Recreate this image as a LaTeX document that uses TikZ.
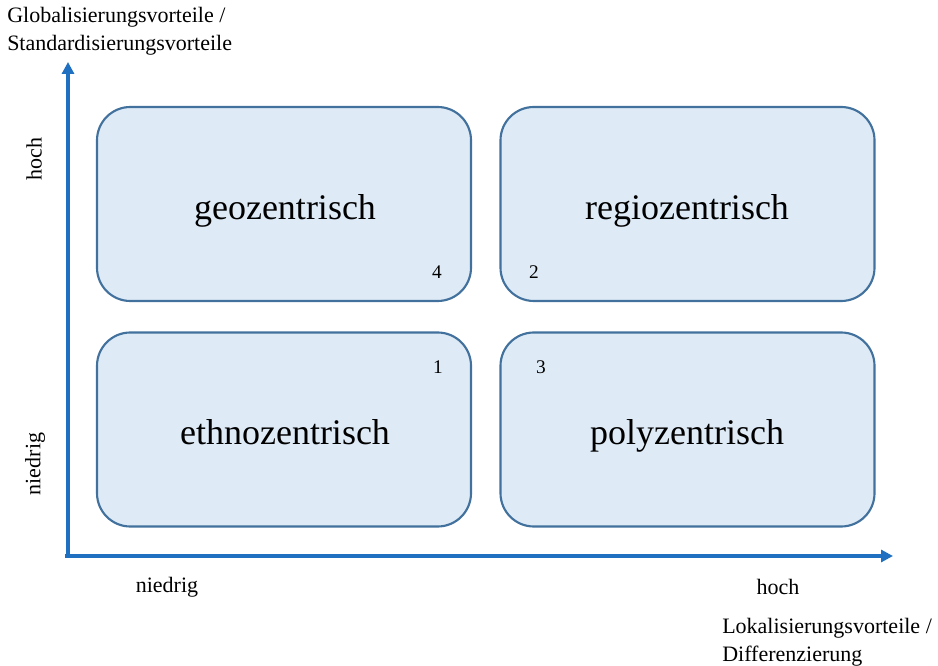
\documentclass[tikz,border=0pt]{standalone}
\usepackage{fontspec}
\setmainfont{Liberation Serif}
\usetikzlibrary{arrows.meta}
\definecolor{axisblue}{HTML}{1F70C1}
\definecolor{boxline}{HTML}{41719C}
\definecolor{boxfill}{HTML}{DEEBF7}
\begin{document}
\begin{tikzpicture}[x=0.75pt,y=-0.75pt,
  quad/.style={draw=boxline,fill=boxfill,line width=1.6pt,rounded corners=25pt,
    minimum width=280.5pt,minimum height=145.5pt,inner sep=0pt},
  biglabel/.style={font=\fontsize{27}{32}\selectfont,inner sep=0pt,anchor=base},
  numlabel/.style={font=\fontsize{14.5}{17}\selectfont,inner sep=0pt},
  axlabel/.style={font=\fontsize{16.5}{21}\selectfont,inner sep=0pt},
  axis/.style={draw=axisblue,line width=2.4pt,-{Triangle[length=9pt,width=9pt]}}]
\useasboundingbox (0,0) rectangle (938,666);
% boxes
\node[quad] (geo) at (284,204) {};
\node[quad] (regio) at (687.5,204) {};
\node[quad] (ethno) at (284,429.5) {};
\node[quad] (poly) at (687.5,429.5) {};
\node[biglabel] (tgeo) at (285,219.5) {geozentrisch};
\node[biglabel] (tregio) at (687,219.5) {regiozentrisch};
\node[biglabel] (tethno) at (285,444.5) {ethnozentrisch};
\node[biglabel] (tpoly) at (687,444.5) {polyzentrisch};
\node[numlabel] (n4) at (437,272) {4};
\node[numlabel] (n2) at (534,272) {2};
\node[numlabel] (n1) at (438,367) {1};
\node[numlabel] (n3) at (541,367) {3};
% axes
\coordinate (origin) at (68,556);
\coordinate (ytip) at (68,62);
\coordinate (xtip) at (893,556);
\draw[axis] (origin) -- (ytip);
\draw[axis] ([xshift=-2.4]origin) -- (xtip);
% axis labels
\node[axlabel,rotate=90] (yhoch) at (34,159) {hoch};
\node[axlabel,rotate=90] (yniedrig) at (35,464) {niedrig};
\node[axlabel] (xniedrig) at (167,587) {niedrig};
\node[axlabel] (xhoch) at (778,587) {hoch};
\node[axlabel,anchor=west,align=left] (ytitle) at (7,31) {Globalisierungsvorteile /\\Standardisierungsvorteile};
\node[axlabel,anchor=west,align=left] (xtitle) at (722,642) {Lokalisierungsvorteile /\\Differenzierung};
\end{tikzpicture}
\end{document}
